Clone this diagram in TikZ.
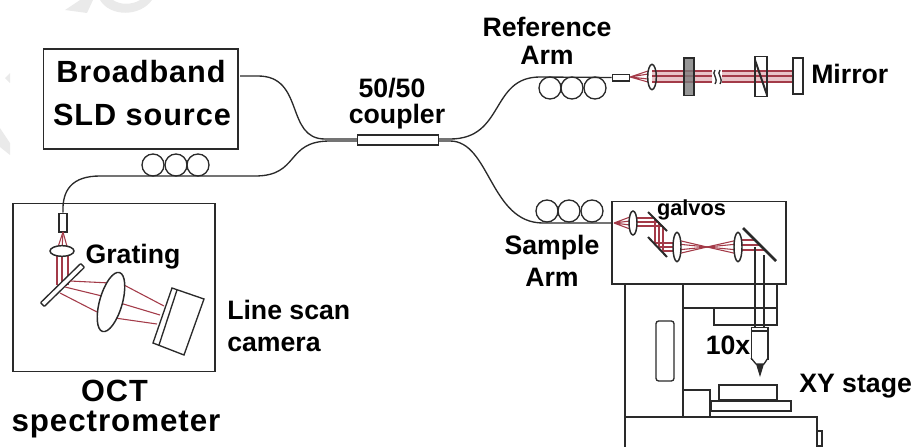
\documentclass[tikz,border=0pt]{standalone}
\usepackage{fontspec}
\setmainfont{Liberation Sans}
\usepackage{xcolor}
\usetikzlibrary{arrows.meta,positioning,fit,calc,shapes.geometric}
\definecolor{beamred}{HTML}{A33A48}
\definecolor{beampink}{HTML}{E8C4C8}
\definecolor{lineblack}{HTML}{2A2A2A}
\definecolor{filtergrey}{HTML}{7C7C7C}
\definecolor{markgrey}{HTML}{EAEAEA}

\begin{document}
\begin{tikzpicture}[
  x=0.75pt,y=-0.75pt,
  part/.style={draw=lineblack,line width=1pt,fill=white,inner sep=0pt},
  fiber/.style={draw=lineblack,line width=1pt},
  coil/.style={circle,draw=lineblack,line width=1pt,minimum size=16.5pt,inner sep=0pt},
  lens/.style={ellipse,draw=lineblack,line width=1.1pt,fill=white,inner sep=0pt},
  beam/.style={draw=beamred,line width=0.8pt},
  mirrorbar/.style={draw=lineblack,line width=1.5pt},
  lbl/.style={font=\bfseries\fontsize{20}{20}\selectfont,text=black,inner sep=0pt,align=center},
  biglbl/.style={font=\bfseries\fontsize{23}{23}\selectfont\addfontfeature{LetterSpace=3},text=black,inner sep=0pt,align=center}
]
\useasboundingbox (0,0) rectangle (915,447);
\fill[markgrey] (5,78) -- (10,73) -- (10,83) -- cycle;
\fill[markgrey] (0,128) -- (10,143) -- (10,155) -- (0,147) -- cycle;
\fill[markgrey] (65,10) -- (80,0) -- (93,0) -- (87,13) -- cycle;
\fill[markgrey] (100,0) .. controls (110,17) and (140,17) .. (152,0) -- (140,0) .. controls (132,5) and (120,5) .. (113,0) -- cycle;

% source and coupler
\node[part,minimum width=146pt,minimum height=75pt] (source) at (140.5,99) {};
\node[biglbl] (bb) at (141,72) {Broadband};
\node[biglbl] (sld) at (142,115) {SLD source};
\node[part,line width=0.8pt,minimum width=61pt,minimum height=7.5pt] (coupler) at (398,140) {};
\node[lbl] at (392,88) {50/50};
\node[lbl] at (397,117) {coupler};
\coordinate (srcout) at (240,76);
\coordinate (cinA) at ($(coupler.west)+(0,-1)$);
\coordinate (cinB) at ($(coupler.west)+(0,1)$);
\coordinate (coutA) at ($(coupler.east)+(0,-1)$);
\coordinate (coutB) at ($(coupler.east)+(0,1)$);
\draw[fiber] (srcout) -- (258,76) .. controls (305,76) and (285,139) .. (325,139) -- (cinA);
% spectrometer
\node[part,minimum width=151.5pt,minimum height=126pt] (spec) at (114,287.5) {};
\node[part,minimum width=6pt,minimum height=14pt] (colspec) at (63,222.5) {};
\draw[fiber] (cinB) -- (330,141) .. controls (285,141) and (300,176) .. (255,176) -- (100,176)
  .. controls (72,176) and (62,190) .. (colspec.north);
\foreach \i in {153,176,198} \node[coil] (s\i) at (\i,165) {};
\foreach \xa in {57,62,68} {
  \draw[beam] (63,232) -- (\xa,250);
  \draw[beam] (\xa,251) -- (\xa,285);
}
\node[lens,minimum width=18pt,minimum height=8pt] (lensspec) at (62,251) {};
\node[part,minimum width=42pt,minimum height=4pt,rotate=44.3,rounded corners=0.5pt] (grating) at (62.5,285) {};
\draw[beam] (70,281) -- (110,283) (65,287) -- (102,296) (60,293) -- (99,313);
\draw[beam] (124,285) -- (164,306) (120,303) -- (160,315) (115,318) -- (157,324);
\node[lens,minimum width=46pt,minimum height=17pt,rotate=74] (lensB) at (111,302) {};
\draw[part] (172,288) -- (204,299) -- (184,355) -- (153,343) -- cycle;
\draw[fiber] (177,290) -- (159,345);
\node[lbl] at (133,257) {Grating};
\node[lbl,anchor=west] at (227,310) {Line scan};
\node[lbl,anchor=west] at (227,344) {camera};
\node[biglbl] at (114.5,391) {OCT};
\node[biglbl,font=\bfseries\fontsize{23.5}{23.5}\selectfont\addfontfeature{LetterSpace=3}] at (116,425) {spectrometer};

% reference arm
\node[part,minimum width=13pt,minimum height=5pt] (colref) at (621,77.5) {};
\draw[fiber] (coutA) -- (450,139) .. controls (505,139) and (490,77) .. (540,77) -- (colref.west);
\foreach \i in {550,572,595} \node[coil] (r\i) at (\i,88) {};
\fill[beampink] (652,71) rectangle (712,82) (722,71) rectangle (793,82);
\draw[beam] (630,77) -- (648,71) (630,77) -- (648,74) (630,77) -- (648,79) (630,77) -- (648,82);
\foreach \ya in {71,76,82} \draw[beam] (652,\ya) -- (712,\ya) (722,\ya) -- (793,\ya);
\node[lens,minimum width=6.5pt,minimum height=19pt,fill=none] (lensref) at (652,77) {};
\node[part,fill=filtergrey,fill opacity=0.8,minimum width=7.5pt,minimum height=28pt] (filter) at (689,76.5) {};
\draw[fiber] (715,70) .. controls (711,74) and (719,78) .. (715,84) (720,70) .. controls (716,74) and (724,78) .. (720,84);
\node[part,fill=none,minimum width=9pt,minimum height=30pt] (wedge) at (761,76.5) {};
\draw[mirrorbar] (755,60) -- (767,95);
\node[part,minimum width=7.5pt,minimum height=27pt] (mirror) at (798,76) {};
\node[lbl] at (547,27) {Reference};
\node[lbl] at (547,55) {Arm};
\node[lbl,anchor=west] at (811,74) {Mirror};

% sample arm and scan head
\node[part,fill=none,minimum width=130.5pt,minimum height=62pt] (head) at (699,242.5) {};
\draw[fiber] (coutB) -- (450,141) .. controls (490,141) and (490,223) .. (543,223) -- (head.west |- 0,223);
\foreach \i in {547,569,592} \node[coil] (a\i) at (\i,211) {};
\coordinate (focusA) at (614,223);
\coordinate (focusB) at (707,247);
\draw[beam] (focusA) -- (630,217) (focusA) -- (630,221) (focusA) -- (630,225) (focusA) -- (630,229);
\draw[beam] (633,218) -- (655,218) (633,222) -- (659,222) (633,226) -- (663,226);
\draw[beam] (655,218) -- (655,243) (659,222) -- (659,247) (663,226) -- (663,251);
\draw[beam] (655,243) -- (677,243) (659,247) -- (677,247) (663,251) -- (677,251);
\foreach \ya in {240,244,250,254} {
  \draw[beam] (677,\ya) -- (focusB);
  \draw[beam] (focusB) -- (738,\ya);
}
\draw[beam] (738,240) -- (755,240) (738,245) -- (759,245) (738,250) -- (764,250);
\node[lens,minimum width=6pt,minimum height=18pt] (lensA) at (633,223) {};
\node[lens,minimum width=6pt,minimum height=22pt] (lensC) at (677,247) {};
\node[lens,minimum width=6pt,minimum height=22pt] (lensD) at (738,247) {};
\draw[mirrorbar] (648,212) -- (667,231);
\draw[mirrorbar] (648,237) -- (667,257);
\draw[mirrorbar,line width=2pt] (743,228) -- (776,261);
\node[lbl,font=\bfseries\fontsize{16.3}{16.3}\selectfont] at (691.5,210) {galvos};
\node[lbl] at (552,248) {Sample};
\node[lbl] at (552,277) {Arm};

% microscope
\draw[fiber] (625,284) -- (625,447);
\draw[fiber] (683,284) -- (683,417);
\draw[fiber] (777,284) -- (777,325);
\draw[fiber] (683,308) -- (777,308);
\draw[part,fill=none] (714,308) rectangle (777,325);
\draw[fiber] (755,247) -- (755,327) (764,255) -- (764,327);
\node[part,minimum width=12.5pt,minimum height=23.5pt,anchor=north] (objective) at (759.5,327) {};
\draw[fiber] (751,331) -- (768,331);
\draw[part] (751,358) -- (756,364) -- (764,364) -- (768,358);
\fill[lineblack] (756,364) -- (764,364) -- (760,377) -- cycle;
\node[part,rounded corners=2pt,minimum width=13.5pt,minimum height=45pt] (slot) at (665,351) {};
\draw[part] (719,385) rectangle (777,400);
\draw[part] (711,401) rectangle (791,411);
\draw[part] (683,390) rectangle (710,417);
\draw[fiber] (625,417) -- (817,417) -- (817,447);
\draw[part] (817,431) rectangle (822,446);
\node[lbl] at (728,345) {10x};
\node[lbl,anchor=west] at (799,386) {XY stage};
\end{tikzpicture}
\end{document}
